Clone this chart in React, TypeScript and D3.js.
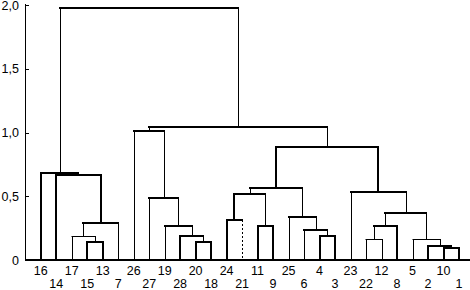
import React from "react";
import * as d3 from "d3";

const leafOrder = ["16","14","17","15","13","7","26","27","19","28","20","18","24","21","11","9","25","6","4","3","23","22","12","8","5","2","10","1"];

// [id, left child, right child, fusion height]
const merges: [string, string, string, number][] = [
  ["m1", "15", "13", 0.141],
  ["m2", "17", "m1", 0.188],
  ["m3", "m2", "7", 0.288],
  ["m4", "14", "m3", 0.664],
  ["m5", "16", "m4", 0.685],
  ["m6", "20", "18", 0.144],
  ["m7", "28", "m6", 0.191],
  ["m8", "19", "m7", 0.269],
  ["m9", "27", "m8", 0.489],
  ["m10", "26", "m9", 1.014],
  ["m11", "24", "21", 0.314],
  ["m12", "11", "9", 0.267],
  ["m13", "m11", "m12", 0.515],
  ["m14", "4", "3", 0.188],
  ["m15", "6", "m14", 0.235],
  ["m16", "25", "m15", 0.34],
  ["m17", "m13", "m16", 0.562],
  ["m18", "22", "12", 0.162],
  ["m19", "m18", "8", 0.269],
  ["m20", "10", "1", 0.096],
  ["m21", "2", "m20", 0.112],
  ["m22", "5", "m21", 0.162],
  ["m23", "m19", "m22", 0.366],
  ["m24", "23", "m23", 0.531],
  ["m25", "m17", "m24", 0.889],
  ["m26", "m10", "m25", 1.04],
  ["m27", "m5", "m26", 1.98],
];

const yTicks = [0, 0.5, 1, 1.5, 2];
const yTickLabels = ["0", "0,5", "1,0", "1,5", "2,0"];

const thinTop = new Set(["m2", "m18", "m22"]);
const boldLeft = new Set(["m1", "m4", "m5", "m6", "m7", "m11", "m12", "m13", "m14", "m20", "m21", "m25"]);
const boldRight = new Set(["m1", "m4", "m5", "m6", "m12", "m14", "m19", "m20", "m21", "m25"]);
const dashedRight = new Set(["m11"]);

const W = 470, H = 290;
const FONT = "'Liberation Sans', Arial, sans-serif";

export default function App() {
  const x = d3.scalePoint<string>().domain(leafOrder).range([40.7, 459]);
  const y = d3.scaleLinear().domain([0, 2]).range([260, 5]);

  const pos = new Map<string, { x: number; h: number }>();
  leafOrder.forEach((l) => pos.set(l, { x: x(l)!, h: 0 }));
  merges.forEach(([id, a, b, h]) => {
    pos.set(id, { x: (pos.get(a)!.x + pos.get(b)!.x) / 2, h });
  });

  const snap = (v: number, w: number) => (w === 1 ? Math.round(v) + 0.5 : Math.round(v));

  const segs: React.ReactNode[] = [];
  merges.forEach(([id, a, b, h]) => {
    const pa = pos.get(a)!, pb = pos.get(b)!;
    const tw = thinTop.has(id) ? 1 : 2;
    const lw = boldLeft.has(id) ? 2 : 1;
    const rw = boldRight.has(id) ? 2 : 1;
    const yh = y(h);
    segs.push(
      <line key={id + "t"} x1={Math.round(pa.x)} x2={Math.round(pb.x)} y1={snap(yh, tw)} y2={snap(yh, tw)}
        stroke="#000" strokeWidth={tw} strokeLinecap="square" />
    );
    segs.push(
      <line key={id + "l"} x1={snap(pa.x, lw)} x2={snap(pa.x, lw)} y1={Math.round(yh)} y2={Math.round(y(pa.h))}
        stroke="#000" strokeWidth={lw} />
    );
    segs.push(
      <line key={id + "r"} x1={snap(pb.x, rw)} x2={snap(pb.x, rw)} y1={Math.round(yh)} y2={Math.round(y(pb.h))}
        stroke="#000" strokeWidth={rw} strokeDasharray={dashedRight.has(id) ? "2,2" : undefined} />
    );
  });

  return (
    <svg width={W} height={H} style={{ position: "absolute", left: 0, top: 0, background: "#fff" }}>
      {/* axis */}
      <line x1={25.5} x2={25.5} y1={4} y2={260} stroke="#000" strokeWidth={1} />
      <line x1={25} x2={470} y1={260} y2={260} stroke="#000" strokeWidth={2} />
      {yTicks.map((t, i) => (
        <g key={"t" + i}>
          <line x1={25} x2={29} y1={Math.round(y(t)) + 0.5} y2={Math.round(y(t)) + 0.5} stroke="#000" strokeWidth={1} />
          <text x={19} y={y(t) + 4.5} textAnchor="end" fontFamily={FONT} fontSize={12.5} fill="#000">
            {yTickLabels[i]}
          </text>
        </g>
      ))}
      {segs}
      {leafOrder.map((l, i) => (
        <text key={"lab" + l} x={x(l)!} y={i % 2 === 0 ? 275 : 288} textAnchor="middle"
          fontFamily={FONT} fontSize={12.5} fill="#000">
          {l}
        </text>
      ))}
    </svg>
  );
}
